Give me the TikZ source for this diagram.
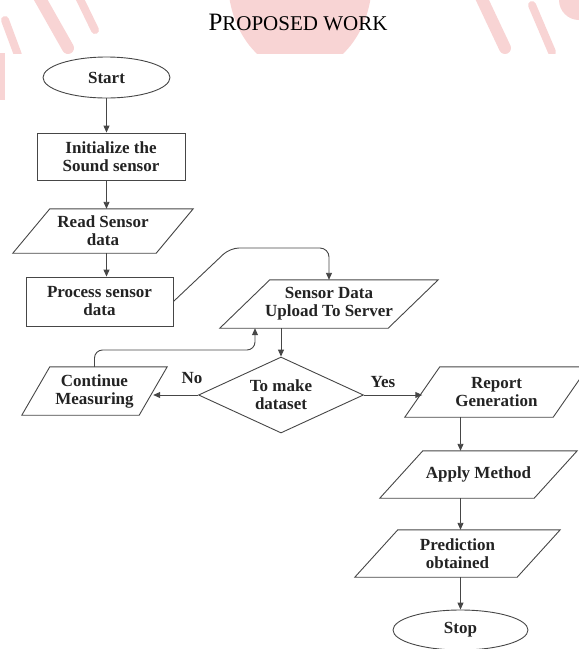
\documentclass[tikz,border=0pt]{standalone}
\usepackage{fontspec}
\setmainfont{Liberation Serif}
\usetikzlibrary{shapes.geometric,arrows.meta,calc}
\definecolor{wm}{RGB}{248,212,212}
\definecolor{ln}{RGB}{70,70,70}
\definecolor{tx}{RGB}{35,35,35}
\newcommand\paradraw[2]{\draw[shapeline] (#1.south west) -- ([xshift=-#2]#1.south east) -- (#1.north east) -- ([xshift=#2]#1.north west) -- cycle;}
\tikzset{
  shapeline/.style={draw=ln, line width=0.9pt},
  lbl/.style={font=\fontsize{17}{18}\selectfont\bfseries, text=tx, align=center, inner sep=0pt},
  boxnode/.style={lbl, rectangle, draw=ln, line width=0.9pt},
  paranode/.style={lbl, rectangle, draw=none},
  ellnode/.style={lbl, ellipse, draw=ln, line width=0.9pt},
  dianode/.style={lbl, diamond, draw=ln, line width=0.9pt, aspect=2.2},
  arr/.style={draw=ln, line width=0.9pt, -{Triangle[length=7pt,width=6pt]}},
}
\begin{document}
\begin{tikzpicture}[x=1pt,y=-1pt]
\useasboundingbox (0,0) rectangle (579,649);
% watermark band
\begin{scope}
\clip (0,0) rectangle (579,53);
\fill[wm] (300,-20) ellipse [x radius=72, y radius=92];
\draw[wm, line width=12pt, line cap=round] (38,-5) -- (68,48);
\draw[wm, line width=8pt, line cap=round] (78,-5) -- (95,30);
\draw[wm, line width=8pt, line cap=round] (5,20) -- (18,55);
\draw[wm, line width=12pt, line cap=round] (480,-5) -- (505,48);
\draw[wm, line width=8pt, line cap=round] (532,5) -- (552,52);
\fill[wm] (579,0) circle (20);
\end{scope}
\fill[wm] (0,53) rectangle (5,100);
% title
\node[anchor=base, inner sep=0pt, text=black] (title) at (298,30)
  {{\fontsize{25}{25}\selectfont P}{\fontsize{21}{21}\selectfont ROPOSED WORK}};
% nodes
\node[ellnode, minimum width=127pt, minimum height=41pt] (start) at (106.5,77.5) {Start};
\node[boxnode, minimum width=148pt, minimum height=47pt] (init) at (111,156.5) {Initialize the\\Sound sensor};
\node[paranode, minimum width=180pt, minimum height=44pt] (read) at (103,231) {Read Sensor\\data};
\paradraw{read}{37}
\node[boxnode, minimum width=147pt, minimum height=49pt] (proc) at (99.5,301.5) {Process sensor\\data};
\node[paranode, minimum width=218pt, minimum height=48pt] (sensor) at (329,304) {Sensor Data\\Upload To Server};
\paradraw{sensor}{50}
\node[dianode, minimum width=165pt, minimum height=76pt] (dia) at (281,395) {To make\\dataset};
\node[paranode, minimum width=145pt, minimum height=48pt] (cont) at (94.5,391) {Continue\\Measuring};
\paradraw{cont}{28}
\node[paranode, minimum width=183pt, minimum height=50pt] (rep) at (496.5,392) {Report\\Generation};
\paradraw{rep}{35}
\node[paranode, minimum width=197pt, minimum height=47pt] (apply) at (478.5,474.5) {Apply Method};
\paradraw{apply}{43}
\node[paranode, minimum width=205pt, minimum height=47pt] (pred) at (457.5,553.5) {Prediction\\obtained};
\paradraw{pred}{43}
\node[ellnode, minimum width=135pt, minimum height=40pt] (stop) at (460.5,630) {Stop};
% edge helper points
\coordinate (contR) at ($([xshift=-28pt]cont.south east)!0.5!(cont.north east)$);
\coordinate (repL) at ($(rep.south west)!0.5!([xshift=35pt]rep.north west)$);
\coordinate (b1) at (230,248);
\coordinate (lp) at (255,350);
% labels
\node[lbl] (no) at (192,378) {No};
\node[lbl] (yes) at (383,382) {Yes};
% connectors
\draw[arr] (start.south) -- (start.south |- init.north);
\draw[arr] (init.south -| start.south) -- (read.north -| start.south);
\draw[arr] (read.south -| start.south) -- (proc.north -| start.south);
\draw[arr, rounded corners=9pt] (proc.east) -- (b1) -- (b1 -| sensor.north) -- (sensor.north);
\draw[arr] (sensor.south -| dia.north) -- (dia.north);
\draw[arr] (dia.west) -- (dia.west -| contR);
\draw[arr, rounded corners=8pt] (cont.north) |- (lp) -- (lp |- sensor.south);
\draw[arr] (dia.east) -- (dia.east -| repL);
\draw[arr] (rep.south -| stop.north) -- (apply.north -| stop.north);
\draw[arr] (apply.south -| stop.north) -- (pred.north -| stop.north);
\draw[arr] (pred.south -| stop.north) -- (stop.north);
\end{tikzpicture}
\end{document}
